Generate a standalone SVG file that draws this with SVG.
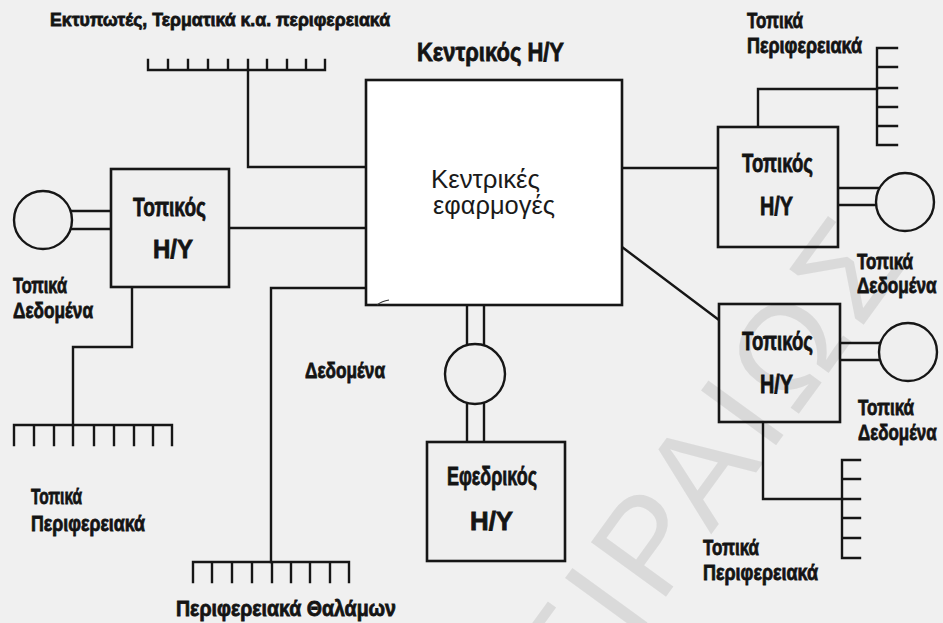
<svg xmlns="http://www.w3.org/2000/svg" width="943" height="623" viewBox="0 0 943 623">
  <style>
    .ln { fill: none; stroke: #161616; stroke-width: 2.4; stroke-linecap: square; }
    .box { fill: #efefef; stroke: #161616; stroke-width: 2.6; }
    .main { fill: #ffffff; stroke: #161616; stroke-width: 2.6; }
    .disk { fill: #efefef; stroke: #161616; stroke-width: 2.4; }
    .lbl { font-family: "Liberation Sans", Arial, sans-serif; font-weight: bold; fill: #141414; stroke: #141414; stroke-width: 0.8; }
    .app { font-family: "Liberation Sans", Arial, sans-serif; font-weight: normal; fill: #1a1a1a; }
    .wm { font-family: "Liberation Sans", Arial, sans-serif; fill: #000000; fill-opacity: 0.09; letter-spacing: 8px; }
  </style>

  <rect x="0" y="0" width="943" height="623" fill="#f0f0f0"/>

  <g id="connectors">
    <!-- printers / terminals bus -->
    <path class="ln" d="M148,70 H325 M148,60 V70 M168,60 V70 M188,60 V70 M208,60 V70 M228,60 V70 M248,60 V70 M267,60 V70 M287,60 V70 M306,60 V70 M325,60 V70"/>
    <path class="ln" d="M248,70 V167 H366"/>
    <!-- left local computer -->
    <path class="ln" d="M72,211 H111 M72,229 H111"/>
    <path class="ln" d="M229,228 H366"/>
    <path class="ln" d="M132,287 V347 H73 V425"/>
    <path class="ln" d="M14,425 H172 M14,425 V445 M34,425 V445 M54,425 V445 M73,425 V445 M94,425 V445 M114,425 V445 M134,425 V445 M153,425 V445 M172,425 V445"/>
    <!-- ward peripherals -->
    <path class="ln" d="M366,288 H271 V562"/>
    <path class="ln" d="M193,562 H349 M193,562 V582 M212,562 V582 M232,562 V582 M252,562 V582 M272,562 V582 M291,562 V582 M310,562 V582 M330,562 V582 M349,562 V582"/>
    <!-- backup link through shared data -->
    <path class="ln" d="M467,305 V350 M484,305 V350 M467,398 V442 M484,398 V442"/>
    <!-- right upper local computer -->
    <path class="ln" d="M622,168 H718"/>
    <path class="ln" d="M838,188 H882 M838,205 H882"/>
    <path class="ln" d="M758,127 V89 H877"/>
    <path class="ln" d="M877,48 V145 M877,48 H897 M877,67 H897 M877,88 H897 M877,107 H897 M877,126 H897 M877,145 H897"/>
    <!-- right lower local computer -->
    <path class="ln" d="M622,247 L719,320"/>
    <path class="ln" d="M840,343 H884 M840,360 H884"/>
    <path class="ln" d="M763,422 V499 H842"/>
    <path class="ln" d="M842,460 V558 M842,460 H860 M842,479 H860 M842,499 H860 M842,518 H860 M842,538 H860 M842,558 H860"/>
  </g>

  <g id="printers-label">
    <text class="lbl" x="50" y="26" font-size="19" textLength="340" lengthAdjust="spacingAndGlyphs">Εκτυπωτές, Τερματικά κ.α. περιφερειακά</text>
  </g>

  <g id="central">
    <text class="lbl" x="417" y="61" font-size="26" textLength="147" lengthAdjust="spacingAndGlyphs">Κεντρικός H/Y</text>
    <rect class="main" x="366" y="80" width="256" height="225"/>
    <path d="M377,305 Q382,301 389,300" fill="none" stroke="#333" stroke-width="1.2"/>
    <text class="app" x="431" y="188" font-size="25" textLength="109" lengthAdjust="spacingAndGlyphs">Κεντρικές</text>
    <text class="app" x="433" y="214" font-size="25" textLength="122" lengthAdjust="spacingAndGlyphs">εφαρμογές</text>
  </g>

  <g id="local-left">
    <rect class="box" x="111" y="169" width="118" height="118"/>
    <text class="lbl" x="133" y="216" font-size="26" textLength="73" lengthAdjust="spacingAndGlyphs">Τοπικός</text>
    <text class="lbl" x="153" y="258" font-size="26" textLength="40" lengthAdjust="spacingAndGlyphs">H/Y</text>
  </g>

  <g id="data-left">
    <circle class="disk" cx="43" cy="220" r="29"/>
    <text class="lbl" x="13" y="293" font-size="22" textLength="54" lengthAdjust="spacingAndGlyphs">Τοπικά</text>
    <text class="lbl" x="13" y="318" font-size="22" textLength="80" lengthAdjust="spacingAndGlyphs">Δεδομένα</text>
  </g>

  <g id="periph-left">
    <text class="lbl" x="31" y="504" font-size="22" textLength="51" lengthAdjust="spacingAndGlyphs">Τοπικά</text>
    <text class="lbl" x="31" y="531" font-size="22" textLength="114" lengthAdjust="spacingAndGlyphs">Περιφερειακά</text>
  </g>

  <g id="ward-periph">
    <text class="lbl" x="305" y="378" font-size="22" textLength="80" lengthAdjust="spacingAndGlyphs">Δεδομένα</text>
    <text class="lbl" x="176" y="616" font-size="22" textLength="220" lengthAdjust="spacingAndGlyphs">Περιφερειακά Θαλάμων</text>
  </g>

  <g id="shared-data">
    <circle class="disk" cx="475" cy="374" r="30"/>
  </g>

  <g id="backup">
    <rect class="box" x="427" y="442" width="138" height="119"/>
    <text class="lbl" x="447" y="485" font-size="26" textLength="90" lengthAdjust="spacingAndGlyphs">Εφεδρικός</text>
    <text class="lbl" x="470" y="530" font-size="26" textLength="43" lengthAdjust="spacingAndGlyphs">H/Y</text>
  </g>

  <g id="local-right-top">
    <rect class="box" x="718" y="127" width="120" height="120"/>
    <text class="lbl" x="742" y="172" font-size="26" textLength="71" lengthAdjust="spacingAndGlyphs">Τοπικός</text>
    <text class="lbl" x="760" y="215" font-size="26" textLength="33" lengthAdjust="spacingAndGlyphs">H/Y</text>
  </g>

  <g id="data-right-top">
    <circle class="disk" cx="905" cy="202" r="29"/>
    <text class="lbl" x="857" y="269" font-size="22" textLength="56" lengthAdjust="spacingAndGlyphs">Τοπικά</text>
    <text class="lbl" font-size="22" transform="translate(857,293) scale(0.78,1)">Δεδομένα</text>
  </g>

  <g id="periph-right-top">
    <text class="lbl" x="747" y="28" font-size="22" textLength="56" lengthAdjust="spacingAndGlyphs">Τοπικά</text>
    <text class="lbl" x="747" y="53" font-size="22" textLength="115" lengthAdjust="spacingAndGlyphs">Περιφερειακά</text>
  </g>

  <g id="local-right-bottom">
    <rect class="box" x="719" y="304" width="121" height="118"/>
    <text class="lbl" x="742" y="350" font-size="26" textLength="71" lengthAdjust="spacingAndGlyphs">Τοπικός</text>
    <text class="lbl" x="760" y="393" font-size="26" textLength="33" lengthAdjust="spacingAndGlyphs">H/Y</text>
  </g>

  <g id="data-right-bottom">
    <circle class="disk" cx="908" cy="352" r="29"/>
    <text class="lbl" x="858" y="415" font-size="22" textLength="56" lengthAdjust="spacingAndGlyphs">Τοπικά</text>
    <text class="lbl" font-size="22" transform="translate(858,440) scale(0.77,1)">Δεδομένα</text>
  </g>

  <g id="periph-right-bottom">
    <text class="lbl" x="703" y="555" font-size="22" textLength="56" lengthAdjust="spacingAndGlyphs">Τοπικά</text>
    <text class="lbl" x="703" y="580" font-size="22" textLength="115" lengthAdjust="spacingAndGlyphs">Περιφερειακά</text>
  </g>

  <!-- translucent lettering laid over the sheet -->
  <text class="wm" font-size="135" transform="translate(575,722) rotate(-54)">ΕΙΡΑΙΩΣ</text>
</svg>
